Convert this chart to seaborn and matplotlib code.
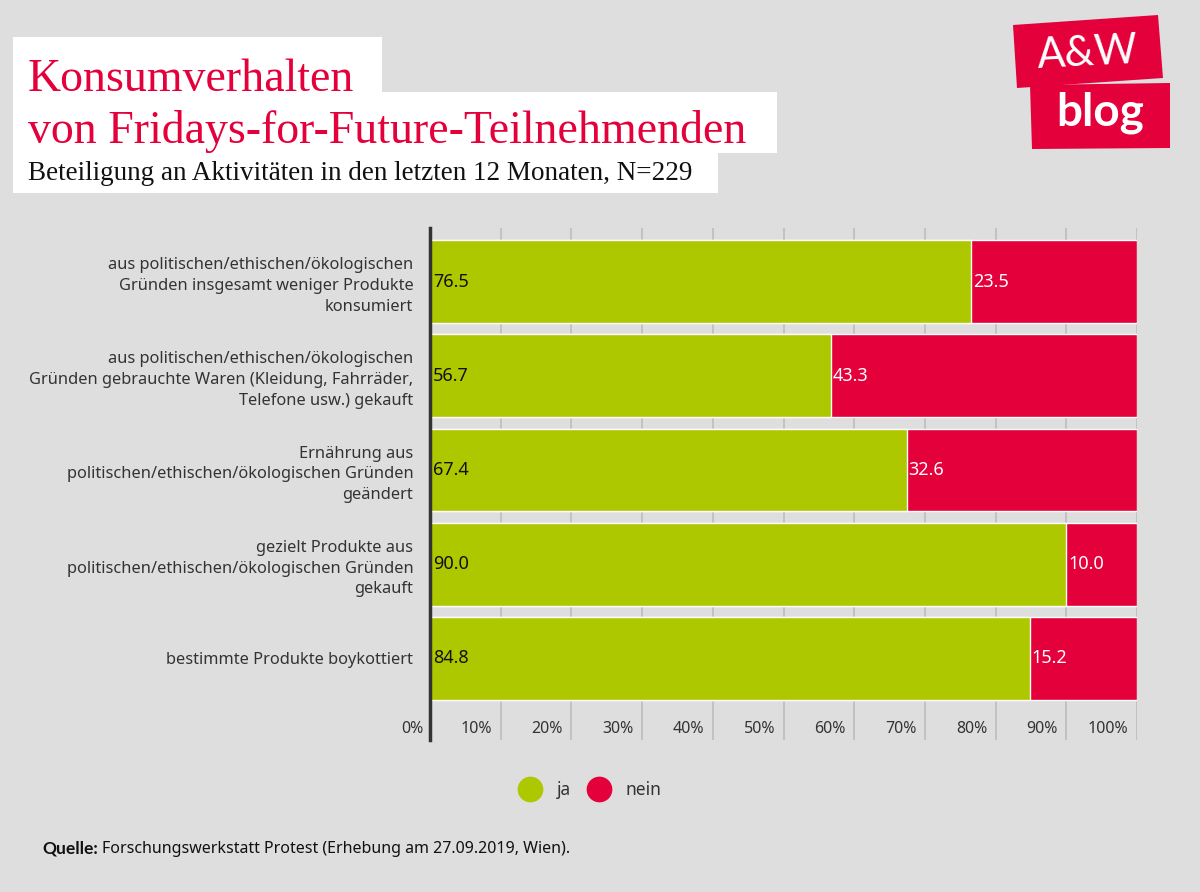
import matplotlib
matplotlib.use("Agg")
import matplotlib.pyplot as plt
import seaborn as sns
import numpy as np
import pandas as pd
from matplotlib.patches import Rectangle, Polygon
from matplotlib.lines import Line2D

categories = [
    "aus politischen/ethischen/ökologischen\nGründen insgesamt weniger Produkte\nkonsumiert",
    "aus politischen/ethischen/ökologischen\nGründen gebrauchte Waren (Kleidung, Fahrräder,\nTelefone usw.) gekauft",
    "Ernährung aus\npolitischen/ethischen/ökologischen Gründen\ngeändert",
    "gezielt Produkte aus\npolitischen/ethischen/ökologischen Gründen\ngekauft",
    "bestimmte Produkte boykottiert",
]
ja = [76.5, 56.7, 67.4, 90.0, 84.8]
nein = [23.5, 43.3, 32.6, 10.0, 15.2]
tick_values = [0, 10, 20, 30, 40, 50, 60, 70, 80, 90, 100]
tick_labels = ["0%", "10%", "20%", "30%", "40%", "50%", "60%", "70%", "80%", "90%", "100%"]

GREEN = "#aec800"
RED = "#e4003a"
BG = "#dedede"

sns.set_theme(style="white")
plt.rcParams["font.family"] = ["Noto Sans", "DejaVu Sans"]

fig = plt.figure(figsize=(12, 8.92), dpi=100)
fig.patch.set_facecolor(BG)
ax = fig.add_axes([430 / 1200, 1 - 740 / 892, 707 / 1200, 512 / 892])
ax.set_facecolor(BG)

df = pd.DataFrame({"cat": categories, "ja": ja, "nein": nein})
df["total"] = df["ja"] + df["nein"]

for v in tick_values[1:]:
    ax.axvline(v, color="#bdbdbd", lw=1.2, zorder=0)

sns.barplot(data=df, y="cat", x="total", color=RED, saturation=1, width=0.88,
            orient="h", ax=ax, zorder=2)
sns.barplot(data=df, y="cat", x="ja", color=GREEN, saturation=1, width=0.88,
            orient="h", ax=ax, zorder=3)

ax.set_xlim(0, 100)
ax.set_ylim(4.865, -0.568)
ax.set_xlabel("")
ax.set_ylabel("")
ax.set_xticks([])
ax.tick_params(axis="y", length=0, pad=12, labelsize=11.8, labelcolor="#333333")
for lab in ax.get_yticklabels():
    lab.set_horizontalalignment("right")
    lab.set_linespacing(1.4)

for s in ["top", "right", "bottom"]:
    ax.spines[s].set_visible(False)
ax.spines["left"].set_color("#333333")
ax.spines["left"].set_linewidth(2.5)
ax.spines["left"].set_zorder(5)

for i, (j, n) in enumerate(zip(ja, nein)):
    ax.text(0.4, i, f"{j:.1f}", ha="left", va="center", fontsize=13,
            color="#111111", zorder=6)
    ax.text(j + 0.3, i, f"{n:.1f}", ha="left", va="center", fontsize=13,
            color="white", zorder=6)

for v, t in zip(tick_values, tick_labels):
    xoff = -1.2 if v > 0 else -0.9
    ax.text(v + xoff, 4.75, t, ha="right", va="center", fontsize=11.5,
            color="#333333")

# Legend
handles = [Line2D([0], [0], marker="o", color="none", markerfacecolor=GREEN,
                  markeredgecolor=GREEN, markersize=17.5, label="ja"),
           Line2D([0], [0], marker="o", color="none", markerfacecolor=RED,
                  markeredgecolor=RED, markersize=17.5, label="nein")]
fig.legend(handles=handles, loc="center", bbox_to_anchor=(587 / 1200, 1 - 790 / 892),
           ncol=2, frameon=False, fontsize=12.5, handletextpad=0.55,
           columnspacing=0.6, labelcolor="#333333")

# Title boxes
def fig_rect(x0, y0, x1, y1, color):
    r = Rectangle((x0 / 1200, 1 - y1 / 892), (x1 - x0) / 1200, (y1 - y0) / 892,
                  transform=fig.transFigure, facecolor=color, edgecolor="none")
    fig.patches.append(r)

fig_rect(13, 37, 382, 95, "white")
fig_rect(13, 92, 777, 153, "white")
fig_rect(13, 150, 718, 193, "white")

serif = ["Liberation Serif", "DejaVu Serif"]
fig.text(28 / 1200, 1 - 91 / 892, "Konsumverhalten", fontsize=33, color=RED,
         family=serif, va="baseline")
fig.text(28 / 1200, 1 - 143 / 892, "von Fridays-for-Future-Teilnehmenden", fontsize=33,
         color=RED, family=serif, va="baseline")
fig.text(28 / 1200, 1 - 180 / 892,
         "Beteiligung an Aktivitäten in den letzten 12 Monaten, N=229",
         fontsize=19.5, color="#111111", family=serif, va="baseline")

# Logo
def poly(pts, color):
    p = Polygon([(x / 1200, 1 - y / 892) for x, y in pts], closed=True,
                transform=fig.transFigure, facecolor=color, edgecolor="none")
    fig.patches.append(p)

poly([(1013, 25), (1158, 15), (1163, 78), (1017, 88)], RED)
poly([(1030, 85), (1170, 83), (1170, 148), (1032, 149)], RED)
fig.text(1088 / 1200, 1 - 53 / 892, "A&W", fontsize=30, color="white",
         ha="center", va="center", family=["Lato", "DejaVu Sans"], rotation=3)
fig.text(1100 / 1200, 1 - 113 / 892, "blog", fontsize=33, color="white",
         ha="center", va="center", family=["Lato", "DejaVu Sans"], weight="bold")

# Source
t1 = fig.text(42 / 1200, 1 - 853 / 892, "Quelle:", fontsize=12.5, weight="bold",
              color="#111111", va="baseline", family=["Lato", "DejaVu Sans"])
fig.canvas.draw()
bb = t1.get_window_extent(renderer=fig.canvas.get_renderer())
fig.text((bb.x1 + 4) / fig.bbox.width, 1 - 853 / 892,
         "Forschungswerkstatt Protest (Erhebung am 27.09.2019, Wien).",
         fontsize=11.5, color="#111111", va="baseline")

fig.savefig("out.png", dpi=100, facecolor=BG)
